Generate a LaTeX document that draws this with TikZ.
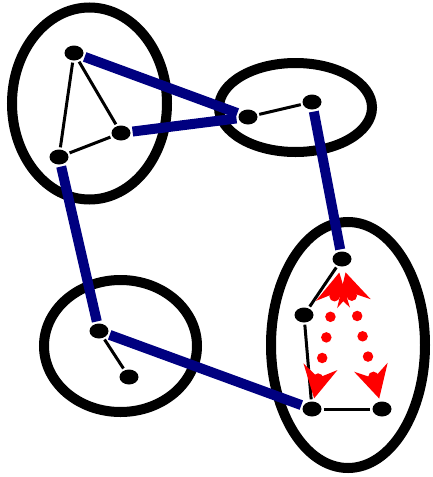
\documentclass[tikz,border=0pt]{standalone}
\usetikzlibrary{shapes.geometric,arrows.meta}
\definecolor{edgeblue}{RGB}{0,0,128}
\begin{document}
\begin{tikzpicture}[x=1pt,y=-1pt,
  cluster/.style={ellipse, draw=black, line width=10pt, inner sep=0pt},
  vert/.style={ellipse, fill=black, minimum width=19pt, minimum height=15pt, inner sep=0pt},
  thin/.style={draw=black, line width=3pt, shorten <=2pt, shorten >=2pt},
  inter/.style={draw=edgeblue, line width=10pt, shorten <=2pt, shorten >=2pt},
  redhead/.tip={Stealth[length=32pt,width=34pt,inset=11pt,fill=red]},
  flow/.style={draw=red, line width=10.5pt, line cap=round, dash pattern=on 0pt off 21pt, dash phase=16pt,
    redhead-redhead, shorten <=6pt, shorten >=3pt}
]
\useasboundingbox (0,0) rectangle (432,477);
% clusters
\node[cluster, minimum width=155pt, minimum height=192pt] (CA) at (89.5,103.5) {};
\node[cluster, minimum width=153pt, minimum height=89pt] (CB) at (295.5,107.5) {};
\node[cluster, minimum width=153pt, minimum height=132pt] (CC) at (120.5,346) {};
\node[cluster, minimum width=154pt, minimum height=246pt] (CD) at (348,345) {};
% vertices
\node[vert] (a1) at (74,53) {};
\node[vert] (a2) at (121,133) {};
\node[vert] (a3) at (59,157) {};
\node[vert] (b1) at (248,117) {};
\node[vert] (b2) at (312,102) {};
\node[vert] (c1) at (99,331) {};
\node[vert] (c2) at (129,377) {};
\node[vert] (d1) at (342,259) {};
\node[vert] (d2) at (304,315) {};
\node[vert] (d3) at (312,409) {};
\node[vert] (d4) at (382,409) {};
% intra-cluster edges
\draw[thin] (a1) -- (a2);
\draw[thin] (a1) -- (a3);
\draw[thin] (a3) -- (a2);
\draw[thin] (b1) -- (b2);
\draw[thin] (c1) -- (c2);
\draw[thin] (d1) -- (d2);
\draw[thin] (d2) -- (d3);
\draw[thin] (d3) -- (d4);
% inter-cluster edges
\draw[inter] (a1) -- (b1);
\draw[inter] (a2) -- (b1);
\draw[inter] (a3) -- (c1);
\draw[inter] (b2) -- (d1);
\draw[inter] (c1) -- (d3);
% red flows
\draw[flow] (d1) -- (d3);
\draw[flow] (d1) -- (d4);
\end{tikzpicture}
\end{document}
